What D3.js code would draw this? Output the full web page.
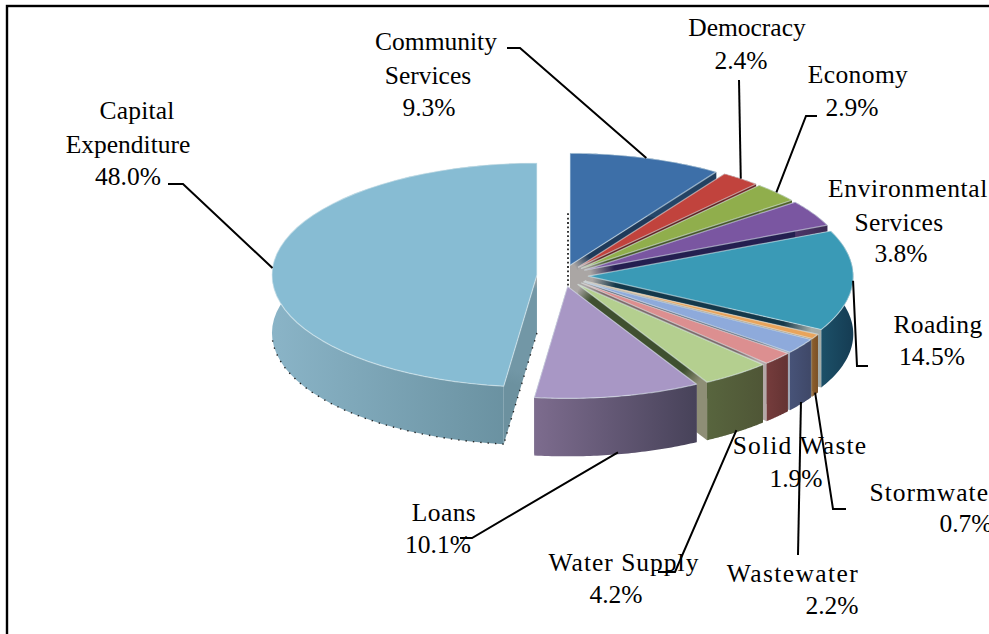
<!DOCTYPE html>
<html>
<head>
<meta charset="utf-8">
<script src="https://cdn.jsdelivr.net/npm/d3@7"></script>
<style>
  html, body { margin: 0; padding: 0; background: #fff; }
  svg { display: block; }
  text { font-family: "Liberation Serif", serif; font-size: 25.5px; fill: #000; }
</style>
</head>
<body>
<svg id="chart" width="989" height="634"></svg>
<script>
// Budget shares by activity, clockwise from twelve o'clock.
const categories = ["Community Services", "Democracy", "Economy", "Environmental Services", "Roading",
  "Stormwater", "Wastewater", "Solid Waste", "Water Supply", "Loans", "Capital Expenditure"];
const shares = [9.3, 2.4, 2.9, 3.8, 14.5, 0.7, 2.2, 1.9, 4.2, 10.1, 48.0];

const topColors = ["#3d6fa8", "#c1433d", "#90ae4c", "#7a56a1", "#3a9ab6", "#e8a45c", "#8eaadb", "#dc8f90", "#b4cf8f", "#a897c5", "#87bcd3"];
const wallLeft = ["#2b4f78", "#7d2a28", "#5f7432", "#4c3568", "#1c5068", "#8d5f2c", "#475378", "#753c3c", "#58653e", "#7d6c8e", "#8ab4c7"];
const wallRight = ["#22405f", "#662220", "#4c5d28", "#3b2a52", "#153c53", "#7a5026", "#3f4868", "#643333", "#4f5636", "#474259", "#668d9c"];
const faceColors = ["#1f3a5a", "#5f2220", "#46562a", "#241f50", "#14384a", "#8d7a60", "#5d6478", "#7d6a6a", "#3f5030", "#6e6480", "#7297a6"];
const faceRimColors = ["#1f3a5a", "#5f2220", "#46562a", "#241f50", "#a4aca8", "#8d7a60", "#a0a6b4", "#b4a8a8", "#8e8e76", "#6e6480", "#6c919f"];
const faceHubColor = "#aaa6a4";

// Label text lines and their centres; the last line always carries the share.
const labelLines = [["Community", "Services"], ["Democracy"], ["Economy"], ["Environmental", "Services"], ["Roading"],
  ["Stormwater"], ["Wastewater"], ["Solid Waste"], ["Water Supply"], ["Loans"], ["Capital", "Expenditure"]];
const labelPlaces = [
  [[436, 42], [428, 76], [429, 108]],
  [[747, 28], [741, 61]],
  [[858, 75], [852, 108]],
  [[908, 189], [899, 223], [901, 254]],
  [[938, 325], [932, 357]],
  [[934, 493], [966, 524]],
  [[793, 574], [832, 606]],
  [[800, 446], [796, 479]],
  [[624, 563], [616, 595]],
  [[444, 513], [438, 545]],
  [[137, 111], [128, 145], [128, 177]]
];
// Extra tracking of each label's first lines, in pixels.
const labelTracking = [[0, 0], [0], [0.4], [0.65, 0.3], [0.4], [1], [1.4], [1.2], [1], [0.4], [0.2, 0]];

// Leader polylines: label-side points first, the last point is computed from the slice rim.
const leaderBends = [
  [[507, 48], [520, 48]],
  [[739, 80]],
  [[817, 116], [806, 116]],
  null,
  [[868, 366], [857, 366]],
  [[846, 509], [833, 509]],
  [[798, 555]],
  null,
  [[658, 572], [675, 572]],
  [[460, 538], [472, 538]],
  [[168, 184], [183, 184]]
];
const leaderOnBase = [false, false, false, false, false, true, true, false, true, true, false];

const width = 989, height = 634;
const centreX = 562.6, centreY = 275.7, radiusX = 265, radiusY = 112, depth = 58, explode = 0.097;

const svg = d3.select("#chart");
const defs = svg.append("defs");

const xScale = d3.scaleLinear().domain([-1, 1]).range([centreX - radiusX, centreX + radiusX]);
const yScale = d3.scaleLinear().domain([-1, 1]).range([centreY - radiusY, centreY + radiusY]);
const slices = d3.pie().sort(null).value(d => d)(shares);

// Position of a pie point: radius r along angle a, on the slice pushed out along its mid-angle.
function pointOn(s, a, r, drop) {
  const mid = (s.startAngle + s.endAngle) / 2;
  return [
    xScale(explode * Math.sin(mid) + r * Math.sin(a)),
    yScale(-(explode * Math.cos(mid) + r * Math.cos(a))) + drop
  ];
}
const rimAngles = s => d3.range(0, 49).map(i => s.startAngle + (s.endAngle - s.startAngle) * i / 48);
const line = d3.line();

svg.append("rect").attr("width", width).attr("height", height).attr("fill", "#fff");
svg.append("rect").attr("x", 7).attr("y", 6).attr("width", width + 20).attr("height", height + 20)
  .attr("fill", "none").attr("stroke", "#000").attr("stroke-width", 2.4);

// Painter's order: the large left slice first, then the rest from back to front.
const order = [10, 0, 1, 2, 3, 4, 5, 6, 7, 8, 9];
const pie = svg.append("g");

order.forEach(i => {
  const s = slices[i];
  const angles = rimAngles(s);
  const g = pie.append("g").attr("class", "slice");
  const apexTop = pointOn(s, s.startAngle, 0, 0), apexBase = pointOn(s, s.startAngle, 0, depth);

  // Radial side faces: pale at the hub, dark along the length, paler again at the rim.
  [s.startAngle, s.endAngle].forEach((a, k) => {
    const rimTop = pointOn(s, a, 1, 0), rimBase = pointOn(s, a, 1, depth);
    const faceId = "face" + i + "-" + k;
    const faceGrad = defs.append("linearGradient").attr("id", faceId)
      .attr("gradientUnits", "userSpaceOnUse")
      .attr("x1", apexTop[0]).attr("x2", rimTop[0])
      .attr("y1", apexTop[1]).attr("y2", rimTop[1]);
    faceGrad.append("stop").attr("offset", 0.02).attr("stop-color", faceHubColor);
    faceGrad.append("stop").attr("offset", 0.12).attr("stop-color", faceColors[i]);
    faceGrad.append("stop").attr("offset", 0.84).attr("stop-color", faceColors[i]);
    faceGrad.append("stop").attr("offset", 0.96).attr("stop-color", faceRimColors[i]);
    g.append("path")
      .attr("d", line([apexTop, rimTop, rimBase, apexBase]) + "Z")
      .attr("fill", "url(#" + faceId + ")");
  });

  // Outer wall, shaded across its width.
  const xs = angles.map(a => pointOn(s, a, 1, 0)[0]);
  const grad = defs.append("linearGradient").attr("id", "wall" + i)
    .attr("gradientUnits", "userSpaceOnUse")
    .attr("x1", d3.min(xs)).attr("x2", d3.max(xs)).attr("y1", 0).attr("y2", 0);
  grad.append("stop").attr("offset", 0).attr("stop-color", wallLeft[i]);
  grad.append("stop").attr("offset", 1).attr("stop-color", wallRight[i]);
  const wall = angles.map(a => pointOn(s, a, 1, 0)).concat(angles.slice().reverse().map(a => pointOn(s, a, 1, depth)));
  g.append("path").attr("d", line(wall) + "Z").attr("fill", "url(#wall" + i + ")");

  // Top face with a pale bevelled edge.
  const top = [apexTop].concat(angles.map(a => pointOn(s, a, 1, 0)));
  g.append("path").attr("d", line(top) + "Z")
    .attr("fill", topColors[i])
    .attr("stroke", "#e4f0f4").attr("stroke-opacity", 0.55).attr("stroke-width", 1.2)
    .attr("stroke-linejoin", "round");
});

// Speckled outline along the foot of the large slice and beside the central column.
const cap = slices[10];
const capBase = rimAngles(cap).filter(a => a < 4.65).map(a => pointOn(cap, a, 1, depth));
const speckle = (pts, weight, pattern) => pie.append("path").attr("d", line(pts)).attr("fill", "none")
  .attr("stroke", "#222").attr("stroke-width", weight).attr("stroke-dasharray", pattern);
speckle(capBase, 1.4, "1.4 6");
speckle([pointOn(cap, cap.startAngle, 0, depth), pointOn(cap, cap.startAngle, 1, depth)], 1.4, "1.4 6");
speckle([pointOn(slices[0], 0, 0, -52), pointOn(slices[0], 0, 0, 22)].map(p => [p[0] - 2, p[1]]), 1.8, "1.8 2.6");

// Leader lines run from each label to the middle of its slice's rim.
const leaders = svg.append("g").attr("fill", "none").attr("stroke", "#000").attr("stroke-width", 2);
slices.forEach((s, i) => {
  if (!leaderBends[i]) return;
  const mid = (s.startAngle + s.endAngle) / 2;
  const end = pointOn(s, mid, 1, leaderOnBase[i] ? depth - 2 : 0);
  leaders.append("path").attr("d", line(leaderBends[i].concat([end])));
});

// Labels.
const format = d3.format(".1f");
const labels = svg.append("g").attr("text-anchor", "middle");
slices.forEach((s, i) => {
  const lines = labelLines[i].concat([format(shares[i]) + "%"]);
  lines.forEach((t, k) => {
    labels.append("text")
      .attr("x", labelPlaces[i][k][0])
      .attr("y", labelPlaces[i][k][1] + 8)
      .attr("letter-spacing", labelTracking[i][k] || 0)
      .text(t);
  });
});
</script>
</body>
</html>
